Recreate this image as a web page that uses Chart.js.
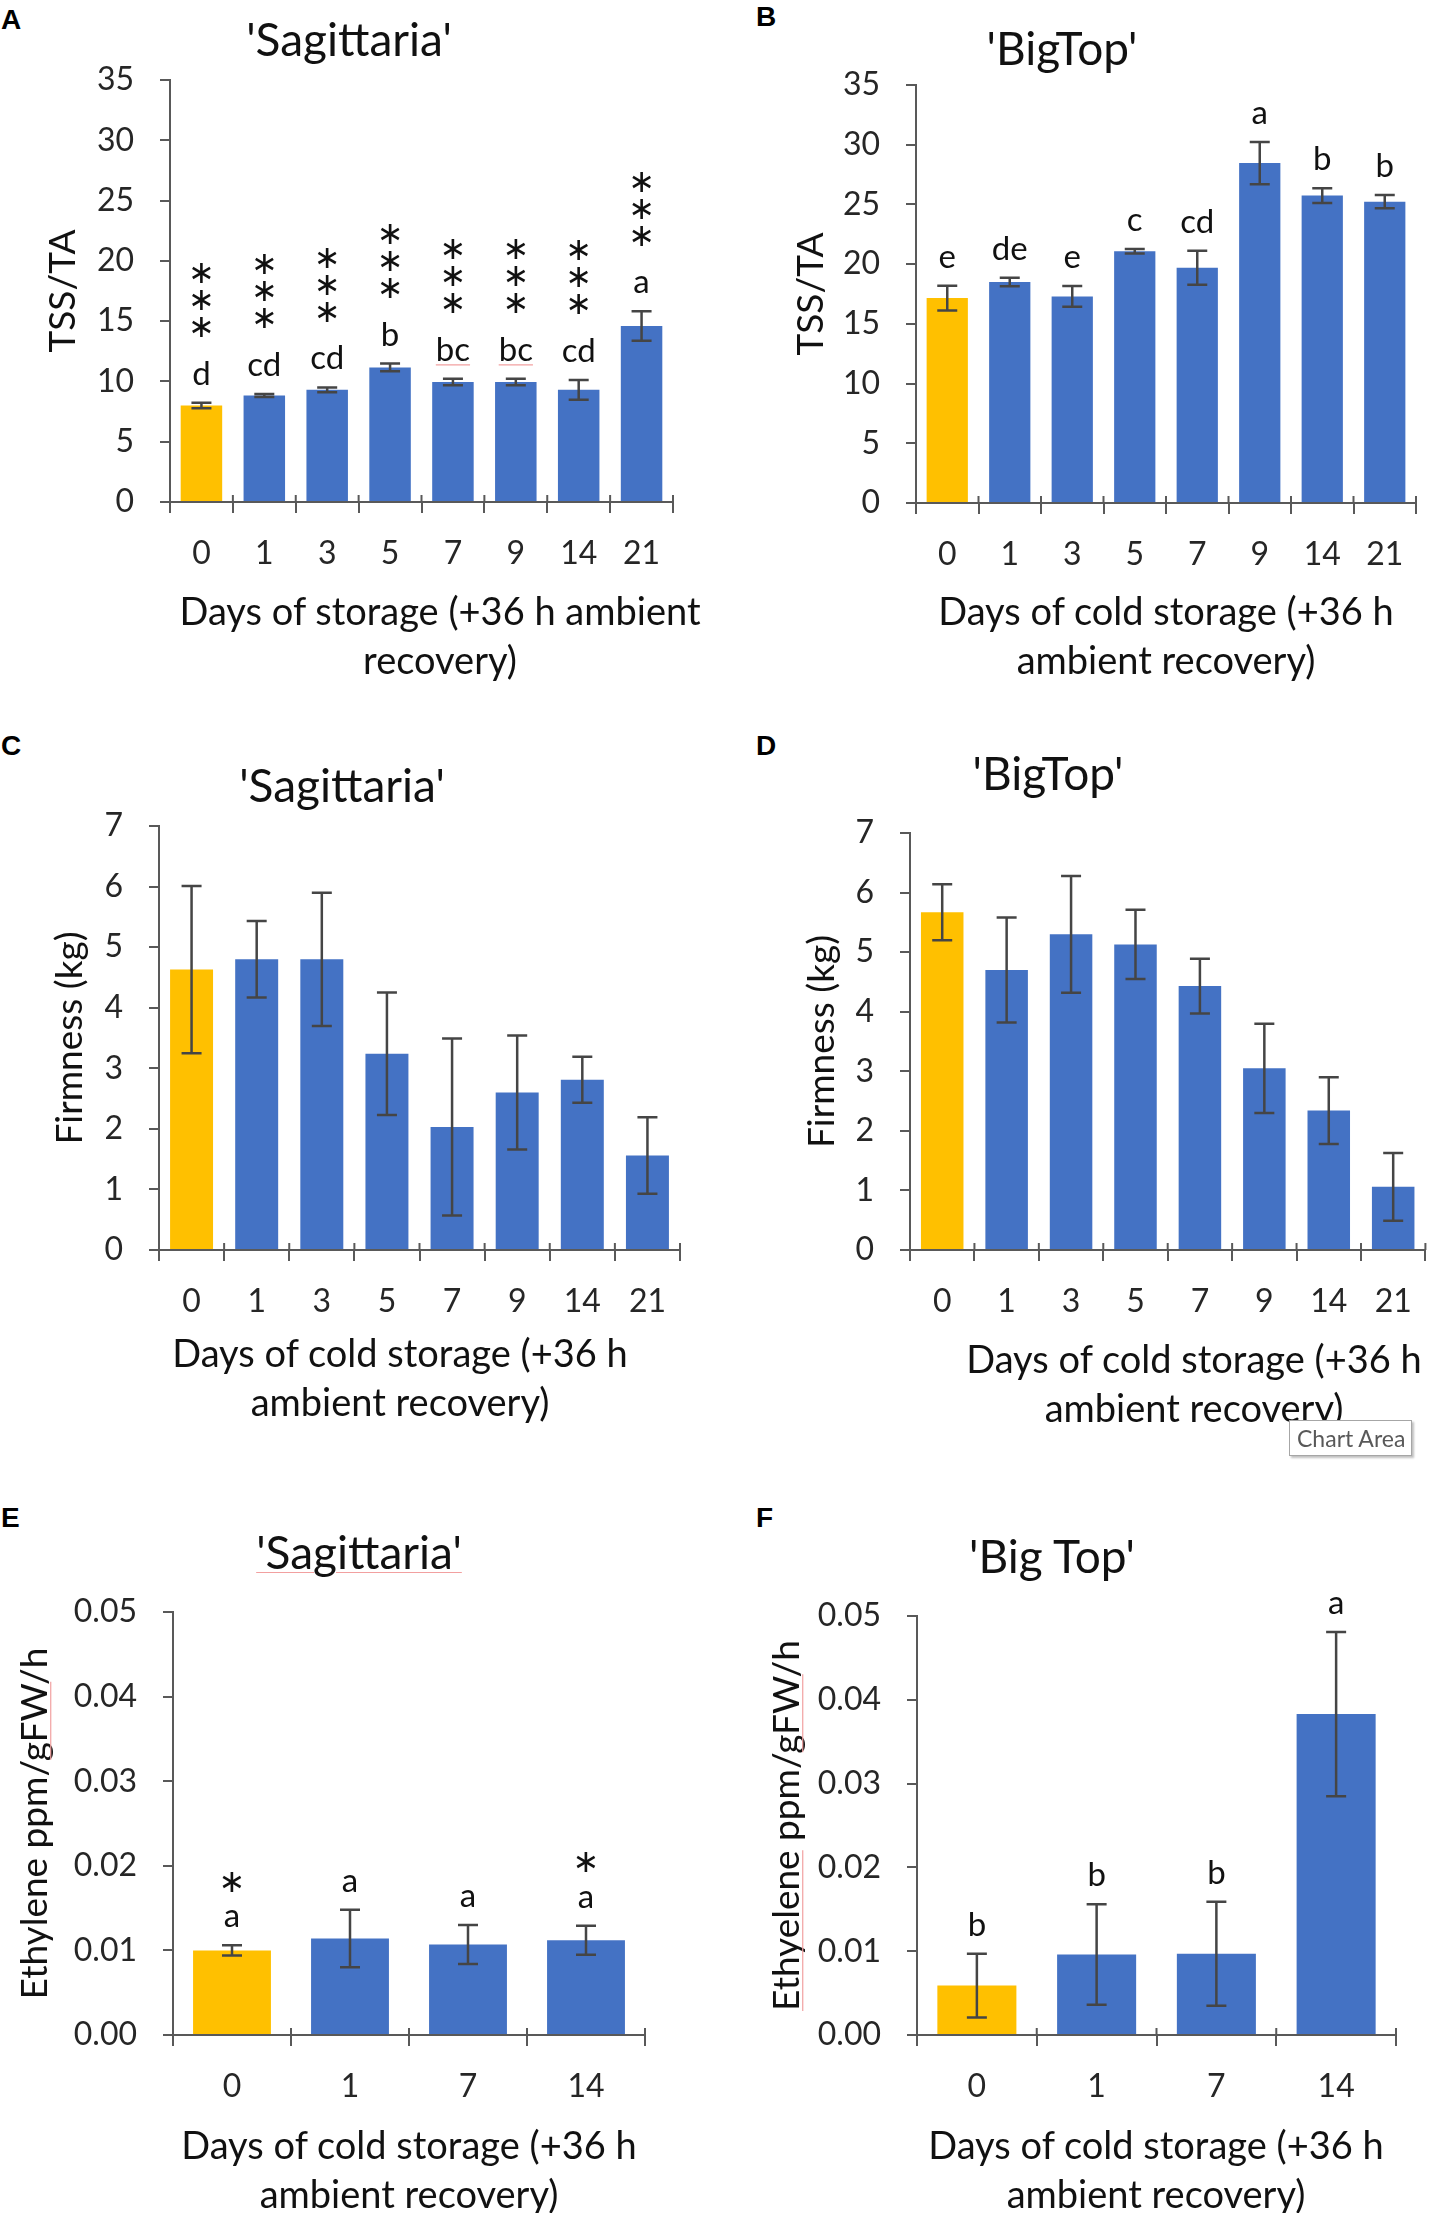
<!DOCTYPE html>
<html>
<head>
<meta charset="utf-8">
<script src="https://cdn.jsdelivr.net/npm/chart.js@4.4.1/dist/chart.umd.min.js"></script>
<style>
  html, body { margin: 0; padding: 0; background: #fff; overflow: hidden; }
  body { width: 1433px; height: 2213px; position: relative; font-family: 'Lato', sans-serif; }
  .panel { position: absolute; }
  .tag { position: absolute; font: bold 28px 'Liberation Sans', Arial, sans-serif; line-height: 28px; color: #000; }
  .title { position: absolute; width: 400px; text-align: center; font-size: 46px; line-height: 46px; color: #111; white-space: nowrap; z-index: 2; }
  .xt { position: absolute; width: 600px; text-align: center; font-size: 38px; line-height: 49px; color: #111; white-space: nowrap; z-index: 2; }
  .spell { text-decoration: underline; text-decoration-color: #f2a0a0; text-decoration-thickness: 1px; text-underline-offset: 3px; }
  .tip { position: absolute; left: 1289px; top: 1420px; width: 114px; height: 34px; padding-left: 7px; background: #fff;
         border: 1px solid #a6a6a6; box-shadow: 2px 2px 2px rgba(0,0,0,0.25); font-size: 23px; line-height: 34px; color: #595959; z-index: 3; }
</style>
</head>
<body>
<div class="tag" style="left:1px;top:6px">A</div>
<div class="tag" style="left:756px;top:3px">B</div>
<div class="tag" style="left:1px;top:732px">C</div>
<div class="tag" style="left:756px;top:732px">D</div>
<div class="tag" style="left:1px;top:1504px">E</div>
<div class="tag" style="left:756px;top:1504px">F</div>

<div class="title" style="left:149px;top:16px">'Sagittaria'</div>
<div class="title" style="left:862px;top:25px">'BigTop'</div>
<div class="title" style="left:142px;top:762px">'Sagittaria'</div>
<div class="title" style="left:848px;top:750px">'BigTop'</div>
<div class="title" style="left:159px;top:1529px"><span class="spell">'Sagittaria'</span></div>
<div class="title" style="left:852px;top:1533px">'Big Top'</div>

<div class="xt" style="left:140px;top:586px">Days of storage (+36 h ambient<br>recovery)</div>
<div class="xt" style="left:866px;top:586px">Days of cold storage (+36 h<br>ambient recovery)</div>
<div class="xt" style="left:100px;top:1328px">Days of cold storage (+36 h<br>ambient recovery)</div>
<div class="xt" style="left:894px;top:1334px">Days of cold storage (+36 h<br>ambient recovery)</div>
<div class="xt" style="left:109px;top:2120px">Days of cold storage (+36 h<br>ambient recovery)</div>
<div class="xt" style="left:856px;top:2120px">Days of cold storage (+36 h<br>ambient recovery)</div>

<div class="tip">Chart Area</div>

<script>
// Days on the category axis
const days8 = ['0', '1', '3', '5', '7', '9', '14', '21'];
const days4 = ['0', '1', '7', '14'];

// (A) TSS/TA 'Sagittaria'
const tssSag = [8.0, 8.83, 9.3, 11.16, 9.95, 9.95, 9.3, 14.6];
const tssSagErr = [0.23, 0.12, 0.2, 0.32, 0.27, 0.27, 0.81, 1.22];
const tssSagLetters = ['d', 'cd', 'cd', 'b', 'bc', 'bc', 'cd', 'a'];
const tssSagStars = ['***', '***', '***', '***', '***', '***', '***', '***'];

// (B) TSS/TA 'BigTop'
const tssBig = [17.16, 18.5, 17.3, 21.08, 19.7, 28.46, 25.74, 25.23];
const tssBigErr = [1.04, 0.36, 0.87, 0.18, 1.42, 1.76, 0.62, 0.56];
const tssBigLetters = ['e', 'de', 'e', 'c', 'cd', 'a', 'b', 'b'];

// (C) Firmness 'Sagittaria'
const firmSag = [4.63, 4.80, 4.80, 3.24, 2.03, 2.60, 2.81, 1.56];
const firmSagErr = [1.38, 0.63, 1.10, 1.01, 1.46, 0.94, 0.38, 0.63];

// (D) Firmness 'BigTop'
const firmBig = [5.67, 4.70, 5.30, 5.13, 4.43, 3.05, 2.34, 1.06];
const firmBigErr = [0.47, 0.88, 0.98, 0.58, 0.46, 0.75, 0.56, 0.57];

// (E) Ethylene 'Sagittaria'
const ethSag = [0.0100, 0.0114, 0.0107, 0.0112];
const ethSagErr = [0.0006, 0.0034, 0.0023, 0.0017];
const ethSagLetters = ['a', 'a', 'a', 'a'];
const ethSagStars = ['*', '', '', '*'];

// (F) Ethylene 'Big Top'
const ethBig = [0.0059, 0.0096, 0.0097, 0.0383];
const ethBigErr = [0.0038, 0.0060, 0.0062, 0.0098];
const ethBigLetters = ['b', 'b', 'b', 'a'];

// Tick labels
const tssTicks = [0, 5, 10, 15, 20, 25, 30, 35];
const firmTicks = [0, 1, 2, 3, 4, 5, 6, 7];
const ethTicks = [0, 0.01, 0.02, 0.03, 0.04, 0.05];

const AXIS = '#595959';
const ERR = '#454545';
const TEXT = '#262626';
const YELLOW = '#FFC000';
const BLUE = '#4472C4';
const SPELL = '#f2a0a0';
const YT_SIZE = 37;

Chart.defaults.font.family = "'Lato', sans-serif";
Chart.defaults.color = TEXT;

function barColors(n) {
    return Array.from({ length: n }, (_, i) => i === 0 ? YELLOW : BLUE);
}

function makeChart(p) {
    const box = document.createElement('div');
    box.className = 'panel';
    box.style.left = p.x + 'px';
    box.style.top = p.y + 'px';
    const canvas = document.createElement('canvas');
    canvas.width = p.w;
    canvas.height = p.h;
    canvas.style.width = p.w + 'px';
    canvas.style.height = p.h + 'px';
    box.appendChild(canvas);
    document.body.appendChild(box);

    const n = p.labels.length;

    // error bars, letters, stars and the upper half of the x ticks
    const marks = {
        id: 'marks',
        afterDatasetsDraw(chart) {
            const ctx = chart.ctx;
            const xs = chart.scales.x, ys = chart.scales.y;
            const meta = chart.getDatasetMeta(0);
            ctx.save();
            ctx.strokeStyle = AXIS;
            ctx.lineWidth = 2;
            for (let i = 0; i <= n; i++) {
                const x = xs.left + i * xs.width / n;
                ctx.beginPath();
                ctx.moveTo(x, ys.bottom - 7);
                ctx.lineTo(x, ys.bottom);
                ctx.stroke();
            }
            meta.data.forEach((bar, i) => {
                const v = p.values[i], e = p.errors[i];
                const yT = ys.getPixelForValue(v + e);
                const yB = ys.getPixelForValue(v - e);
                ctx.strokeStyle = ERR;
                ctx.lineWidth = 2.5;
                ctx.beginPath();
                ctx.moveTo(bar.x, yT); ctx.lineTo(bar.x, yB);
                ctx.moveTo(bar.x - 10, yT); ctx.lineTo(bar.x + 10, yT);
                ctx.moveTo(bar.x - 10, yB); ctx.lineTo(bar.x + 10, yB);
                ctx.stroke();

                if (!p.letters) return;
                const base = yT - 18;
                const lt = p.letters[i];
                ctx.fillStyle = '#111';
                ctx.textAlign = 'center';
                ctx.textBaseline = 'alphabetic';
                ctx.font = "33px 'Lato'";
                ctx.fillText(lt, bar.x, base);
                if (p.spellLetters && p.spellLetters.includes(lt)) {
                    const w = ctx.measureText(lt).width;
                    ctx.strokeStyle = SPELL;
                    ctx.lineWidth = 1.2;
                    ctx.beginPath();
                    ctx.moveTo(bar.x - w / 2, base + 4);
                    ctx.lineTo(bar.x + w / 2, base + 4);
                    ctx.stroke();
                }
                const s = p.stars ? p.stars[i] : '';
                ctx.font = "32px 'DejaVu Sans'";
                ctx.textBaseline = 'middle';
                for (let k = 0; k < s.length; k++) {
                    const cy = base - p.starGap - k * 27;
                    ctx.fillText('\u2217', bar.x, cy);
                }
            });
            ctx.restore();
        },
        afterDraw(chart) {
            if (!p.spellY) return;
            const ctx = chart.ctx;
            const ys = chart.scales.y;
            ctx.save();
            ctx.font = YT_SIZE + "px 'Lato'";
            const text = p.yTitle;
            const w = ctx.measureText(text).width;
            const cx = ys.left + p.yTitlePad + YT_SIZE * 1.2 / 2;
            const cy = (ys.top + ys.bottom) / 2;
            ctx.strokeStyle = SPELL;
            ctx.lineWidth = 1.2;
            p.spellY.forEach(sub => {
                const i = text.indexOf(sub);
                const u0 = -w / 2 + ctx.measureText(text.slice(0, i)).width;
                const u1 = u0 + ctx.measureText(sub).width;
                const x = cx + YT_SIZE * 0.42;
                ctx.beginPath();
                ctx.moveTo(x, cy - u0);
                ctx.lineTo(x, cy - u1);
                ctx.stroke();
            });
            ctx.restore();
        }
    };

    return new Chart(canvas, {
        type: 'bar',
        data: {
            labels: p.labels,
            datasets: [{
                data: p.values,
                backgroundColor: barColors(n),
                borderWidth: 0,
                barPercentage: 0.66,
                categoryPercentage: 1
            }]
        },
        options: {
            responsive: false,
            animation: false,
            events: [],
            layout: {
                padding: { left: 0, top: p.T, right: p.w - p.R, bottom: 0 }
            },
            plugins: {
                legend: { display: false },
                tooltip: { enabled: false },
                title: { display: false }
            },
            scales: {
                x: {
                    offset: true,
                    grid: {
                        display: true, offset: true, drawOnChartArea: false,
                        drawTicks: true, tickLength: 11, color: AXIS, lineWidth: 2
                    },
                    border: { display: true, color: AXIS, width: 2 },
                    ticks: { font: { size: 32 }, color: TEXT, padding: 21, maxRotation: 0, autoSkip: false },
                    title: { display: false },
                    afterFit(scale) { scale.height = p.h - p.B; }
                },
                y: {
                    min: 0,
                    max: p.ticks[p.ticks.length - 1],
                    afterBuildTicks(scale) { scale.ticks = p.ticks.map(v => ({ value: v })); },
                    grid: {
                        display: true, drawOnChartArea: false,
                        drawTicks: true, tickLength: 10, color: AXIS, lineWidth: 2
                    },
                    border: { display: true, color: AXIS, width: 2 },
                    ticks: {
                        font: { size: 32 }, color: TEXT, padding: 26,
                        callback: v => v.toFixed(p.decimals)
                    },
                    title: {
                        display: true, text: p.yTitle, color: '#111',
                        font: { size: YT_SIZE, lineHeight: 1.2 },
                        padding: { top: p.yTitlePad, bottom: 0 }
                    },
                    afterFit(scale) { scale.width = p.L; }
                }
            }
        },
        plugins: [marks]
    });
}

function draw() {
    makeChart({
        x: 0, y: 0, w: 716, h: 715, L: 170, T: 80, R: 673, B: 502,
        labels: days8, values: tssSag, errors: tssSagErr,
        letters: tssSagLetters, stars: tssSagStars, starGap: 56, spellLetters: ['bc'],
        ticks: tssTicks, decimals: 0,
        yTitle: 'TSS/TA', yTitlePad: 41
    });
    makeChart({
        x: 716, y: 0, w: 717, h: 715, L: 200, T: 85, R: 700, B: 503,
        labels: days8, values: tssBig, errors: tssBigErr,
        letters: tssBigLetters,
        ticks: tssTicks, decimals: 0,
        yTitle: 'TSS/TA', yTitlePad: 73
    });
    makeChart({
        x: 0, y: 720, w: 716, h: 740, L: 159, T: 106, R: 680, B: 530,
        labels: days8, values: firmSag, errors: firmSagErr,
        ticks: firmTicks, decimals: 0,
        yTitle: 'Firmness (kg)', yTitlePad: 48
    });
    makeChart({
        x: 716, y: 720, w: 717, h: 740, L: 194, T: 113, R: 713, B: 530,
        labels: days8, values: firmBig, errors: firmBigErr,
        ticks: firmTicks, decimals: 0,
        yTitle: 'Firmness (kg)', yTitlePad: 84
    });
    makeChart({
        x: 0, y: 1470, w: 716, h: 743, L: 173, T: 142, R: 645, B: 565,
        labels: days4, values: ethSag, errors: ethSagErr,
        letters: ethSagLetters, stars: ethSagStars, starGap: 44,
        ticks: ethTicks, decimals: 2,
        yTitle: 'Ethylene ppm/gFW/h', yTitlePad: 13, spellY: ['gFW']
    });
    makeChart({
        x: 716, y: 1470, w: 717, h: 743, L: 201, T: 146, R: 680, B: 565,
        labels: days4, values: ethBig, errors: ethBigErr,
        letters: ethBigLetters,
        ticks: ethTicks, decimals: 2,
        yTitle: 'Ethyelene ppm/gFW/h', yTitlePad: 49, spellY: ['Ethyelene', 'gFW']
    });
}

document.fonts.load("30px 'Lato'").then(draw, draw);
</script>
</body>
</html>
